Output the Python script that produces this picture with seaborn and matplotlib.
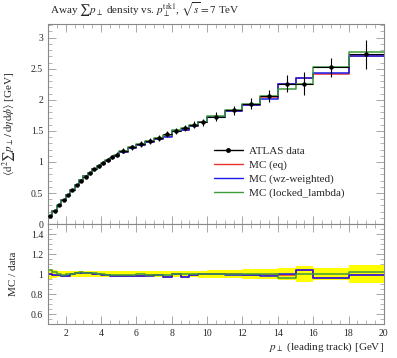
import numpy as np
import pandas as pd
import matplotlib
matplotlib.use("Agg")
import matplotlib.pyplot as plt
from matplotlib.ticker import MultipleLocator
from matplotlib.lines import Line2D
import seaborn as sns

# ---- data ----
bin_edges = [1.0, 1.25, 1.5, 1.75, 2.0, 2.25, 2.5, 2.75, 3.0, 3.25, 3.5, 3.75, 4.0,
             4.25, 4.5, 4.75, 5.0, 5.5, 6.0, 6.5, 7.0, 7.5, 8.0, 8.5, 9.0, 9.5, 10.0,
             11.0, 12.0, 13.0, 14.0, 15.0, 16.0, 18.0, 20.0]
data_vals = [0.13, 0.21, 0.30, 0.39, 0.47, 0.55, 0.63, 0.70, 0.76, 0.82, 0.88, 0.93,
             0.98, 1.03, 1.08, 1.12, 1.18, 1.24, 1.29, 1.34, 1.39, 1.45, 1.50, 1.55,
             1.60, 1.64, 1.73, 1.83, 1.94, 2.06, 2.26, 2.26, 2.52, 2.73]
data_errs = [0.007, 0.008, 0.010, 0.013, 0.015, 0.018, 0.020, 0.022, 0.024, 0.026,
             0.028, 0.030, 0.031, 0.033, 0.035, 0.036, 0.038, 0.040, 0.042, 0.044,
             0.046, 0.048, 0.050, 0.052, 0.055, 0.058, 0.07, 0.075, 0.095, 0.095,
             0.14, 0.18, 0.15, 0.24]
mc_eq = [0.130, 0.209, 0.296, 0.384, 0.463, 0.550, 0.636, 0.708, 0.769, 0.828, 0.884,
         0.930, 0.970, 1.020, 1.062, 1.101, 1.162, 1.221, 1.271, 1.324, 1.376, 1.414,
         1.500, 1.511, 1.584, 1.648, 1.730, 1.825, 1.921, 2.039, 2.249, 2.350, 2.419,
         2.703]
mc_wz = [0.130, 0.209, 0.296, 0.384, 0.463, 0.550, 0.636, 0.708, 0.769, 0.828, 0.884,
         0.930, 0.970, 1.020, 1.062, 1.101, 1.162, 1.219, 1.268, 1.320, 1.372, 1.409,
         1.500, 1.508, 1.584, 1.645, 1.730, 1.821, 1.921, 2.019, 2.253, 2.350, 2.427,
         2.697]
mc_ll = [0.135, 0.214, 0.300, 0.388, 0.468, 0.553, 0.636, 0.711, 0.771, 0.830, 0.889,
         0.935, 0.978, 1.025, 1.069, 1.107, 1.174, 1.234, 1.287, 1.333, 1.383, 1.436,
         1.508, 1.550, 1.597, 1.648, 1.733, 1.835, 1.940, 2.066, 2.176, 2.260, 2.520,
         2.776]
series_names = ["MC (eq)", "MC (wz-weighted)", "MC (locked_lambda)"]
series_colors = ["#e8322e", "#1a1aee", "#3c9a3c"]

edges = np.array(bin_edges)
centers = 0.5 * (edges[:-1] + edges[1:])
halfw = 0.5 * np.diff(edges)
dv = np.array(data_vals)
de = np.array(data_errs)

sns.set_style("ticks")
plt.rcParams["font.family"] = ["Liberation Serif", "DejaVu Serif"]
plt.rcParams["mathtext.fontset"] = "stix"

fig = plt.figure(figsize=(3.97, 3.58), dpi=100)
ax = fig.add_axes([0.121, 0.374, 0.846, 0.559])
axr = fig.add_axes([0.121, 0.095, 0.846, 0.279], sharex=ax)

def steps(a, vals, color, lw=1.0, alpha=1.0):
    df = pd.DataFrame({"x": edges, "y": list(vals) + [vals[-1]]})
    sns.lineplot(data=df, x="x", y="y", ax=a, drawstyle="steps-post", color=color,
                 lw=lw, alpha=alpha, estimator=None, sort=False, legend=False)

for vals, col in zip([mc_eq, mc_wz, mc_ll], series_colors):
    steps(ax, vals, col, lw=1.1)

ax.errorbar(centers, dv, yerr=de, xerr=halfw, fmt="o", color="black", ms=2.2,
            elinewidth=0.8, capsize=0, zorder=5)

ax.set_xlim(1, 20)
ax.set_ylim(0, 3.22)
ax.set_ylabel(r"$\langle\mathrm{d}^2\sum p_\perp\,/\,\mathrm{d}\eta\mathrm{d}\phi\rangle$ [GeV]",
              fontsize=8)
ax.set_xlabel("")
ax.yaxis.set_major_locator(MultipleLocator(0.5))
ax.yaxis.set_minor_locator(MultipleLocator(0.1))
ax.xaxis.set_major_locator(MultipleLocator(2))
ax.xaxis.set_minor_locator(MultipleLocator(0.5))
plt.setp(ax.get_xticklabels(), visible=False)
ax.set_yticks([0, 0.5, 1, 1.5, 2, 2.5, 3])
ax.set_yticklabels(["0", "0.5", "1", "1.5", "2", "2.5", "3"])

ax.text(0.005, 1.025, r"Away $\sum p_\perp$ density vs. $p_\perp^{\rm trk1}$, $\sqrt{s} = 7$ TeV",
        transform=ax.transAxes, fontsize=8, ha="left", va="bottom")

handles = [Line2D([0], [0], color="black", marker="o", ms=2.5, lw=1.0)]
handles += [Line2D([0], [0], color=c, lw=1.0) for c in series_colors]
ax.legend(handles, ["ATLAS data"] + series_names, loc="upper left",
          bbox_to_anchor=(0.48, 0.41), frameon=False, fontsize=8,
          handlelength=2.6, handletextpad=0.6, labelspacing=0.35, borderaxespad=0)

# ratio panel
rel = de / dv
axr.fill_between(edges, list(1 - rel) + [1 - rel[-1]], list(1 + rel) + [1 + rel[-1]],
                 step="post", color="#ffff00", lw=0)
for vals, col in zip([mc_eq, mc_wz, mc_ll], series_colors):
    steps(axr, np.array(vals) / dv, col, lw=1.1)
axr.axhline(1.0, color="#c8c800", lw=0.3, zorder=0)
axr.set_ylim(0.5, 1.5)
axr.set_xlim(1, 20)
axr.yaxis.set_major_locator(MultipleLocator(0.2))
axr.yaxis.set_minor_locator(MultipleLocator(0.05))
axr.set_yticks([0.6, 0.8, 1.0, 1.2, 1.4])
axr.set_yticklabels(["0.6", "0.8", "1", "1.2", "1.4"])
axr.set_ylabel("MC / data", fontsize=8)
axr.set_xlabel(r"$p_\perp$ (leading track) [GeV]", fontsize=8, loc="right", labelpad=2)
axr.set_xticks(range(2, 21, 2))
axr.set_xticklabels([str(v) for v in range(2, 21, 2)])

for a in (ax, axr):
    a.tick_params(which="both", direction="in", top=True, right=True, labelsize=7,
                  color="#999999")
    a.tick_params(which="major", length=6, width=0.6)
    a.tick_params(which="minor", length=3, width=0.5)
    for s in a.spines.values():
        s.set_color("#888888")
        s.set_linewidth(0.8)
        s.set_visible(True)
ax.yaxis.set_label_coords(-0.09, 0.5)
axr.yaxis.set_label_coords(-0.09, 0.5)

fig.savefig("out.png", dpi=100)
